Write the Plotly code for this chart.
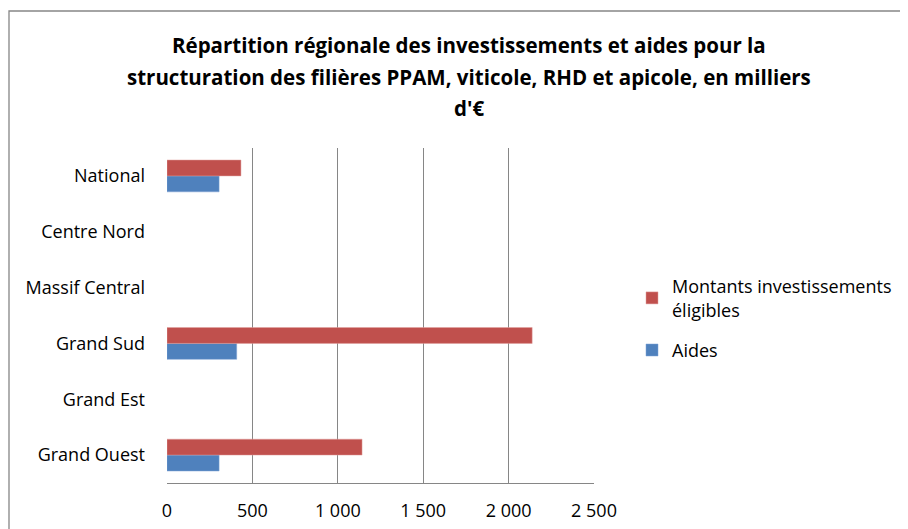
import plotly.graph_objects as go

categories = ["Grand Ouest", "Grand Est", "Grand Sud", "Massif Central", "Centre Nord", "National"]
aides = [305, None, 408, None, None, 305]
montants = [1142, None, 2138, None, None, 433]
series_names = ["Aides", "Montants investissements<br>éligibles"]
tick_vals = [0, 500, 1000, 1500, 2000, 2500]
tick_text = ["0", "500", "1 000", "1 500", "2 000", "2 500"]
title_lines = [
    "Répartition régionale des investissements et aides pour la",
    "structuration des filières PPAM, viticole, RHD et apicole, en milliers",
    "d'€",
]

FONT = "Open Sans"
OFF = 8  # page body margin offset
W, H = 908 - OFF, 529 - OFF
def fx(px):
    return px - OFF

L = fx(167)
R = W - fx(594)
T = fx(148)
B = H - fx(483)
pw, ph = W - L - R, H - T - B

def paper_x(px):
    return (fx(px) - L) / pw

def paper_y(py):
    return 1 - (fx(py) - T) / ph

fig = go.Figure()
fig.add_trace(go.Bar(y=categories, x=aides, name=series_names[0], orientation="h",
                     legendgroup="a", legendrank=2,
                     marker=dict(color="#4F81BD", line=dict(color="#7FA3D4", width=0.5))))
fig.add_trace(go.Bar(y=categories, x=montants, name=series_names[1], orientation="h",
                     legendgroup="m", legendrank=1,
                     marker=dict(color="#C0504D", line=dict(color="#E0A09E", width=0.5))))

fig.update_layout(
    width=W, height=H,
    margin=dict(l=L, r=R, t=T, b=B, autoexpand=False),
    paper_bgcolor="white", plot_bgcolor="white",
    barmode="group", bargap=0.43, bargroupgap=0,
    font=dict(family=FONT, size=18, color="black"),
    showlegend=True,
    legend=dict(
        x=paper_x(632), y=paper_y(268), xanchor="left", yanchor="top",
        traceorder="grouped", tracegroupgap=14,
        font=dict(family=FONT, size=18, color="black"),
        bgcolor="rgba(0,0,0,0)", itemwidth=30,
    ),
    xaxis=dict(
        range=[0, 2500], tickvals=tick_vals, ticktext=tick_text,
        showgrid=True, gridcolor="#868686", gridwidth=1.3,
        showline=True, linecolor="#868686", linewidth=1.3,
        ticks="", ticklabelstandoff=11, zeroline=False,
        tickfont=dict(family=FONT, size=18, color="black"),
    ),
    yaxis=dict(
        categoryorder="array", categoryarray=categories,
        showgrid=False, showline=False, ticks="", ticklabelstandoff=21,
        tickfont=dict(family=FONT, size=18, color="black"),
    ),
)

# outer chart border (top & left visible)
fig.add_shape(type="rect", xref="paper", yref="paper",
              x0=paper_x(9), x1=paper_x(940),
              y0=paper_y(560), y1=paper_y(11),
              line=dict(color="#868686", width=1.3), fillcolor="rgba(0,0,0,0)", layer="below")

for line, yc in zip(title_lines, [45, 77, 108]):
    fig.add_annotation(text="<b>" + line + "</b>", xref="paper", yref="paper",
                       x=paper_x(469), y=paper_y(yc), xanchor="center", yanchor="middle",
                       showarrow=False, font=dict(family=FONT, size=20.5, color="black"))

fig.write_html("out.html")
